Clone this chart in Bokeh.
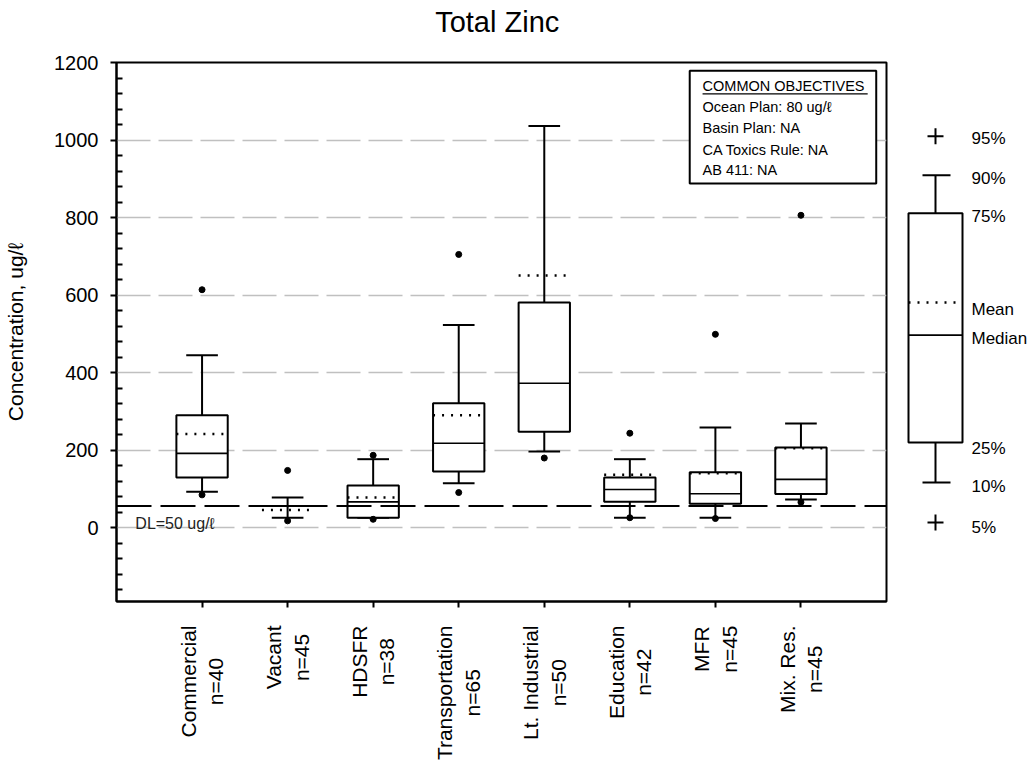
import math
from bokeh.plotting import figure
from bokeh.models import Range1d, FixedTicker, ColumnDataSource, Span
from bokeh.layouts import row, column
from bokeh.embed import file_html
from bokeh.resources import INLINE
from bokeh.core.properties import value

# ---------------- data ----------------
title_text = "Total Zinc"
categories = ["Commercial", "Vacant", "HDSFR", "Transportation",
              "Lt. Industrial", "Education", "MFR", "Mix. Res."]
counts = [40, 45, 38, 65, 50, 42, 45, 45]
p5 = [85, 18, 22, 91, 180, 26, 24, 66]
p10 = [93, 26, 26, 115, 197, 26, 26, 73]
q1 = [130, 56, 26, 145, 248, 67, 62, 87]
median = [192, 56, 67, 218, 373, 99, 88, 125]
q3 = [290, 56, 109, 321, 581, 130, 143, 207]
p90 = [445, 78, 177, 523, 1036, 177, 259, 269]
p95 = [614, 148, 187, 705, float("nan"), 244, 499, 806]
mean = [242, 46, 78, 290, 651, 137, 141, 205]

y_ticks = [0, 200, 400, 600, 800, 1000, 1200]
detection_limit = 56
dl_label = "DL=50 ug/\u2113"
objectives = ["COMMON OBJECTIVES", "Ocean Plan: 80 ug/\u2113", "Basin Plan: NA",
              "CA Toxics Rule: NA", "AB 411: NA"]

key_names = ["95%", "90%", "75%", "Mean", "Median", "25%", "10%", "5%"]
key_p5, key_p10, key_q1, key_median, key_mean, key_q3, key_p90, key_p95 = 14, 117, 220, 497, 581, 811, 909, 1010

FONT = "Liberation Sans"
HT = 46           # height of the title strip
HP = 609 - HT     # height of the plot row
HL = 156          # height of the category-label strip
TOP = 62 - HT     # top border of the plot inside its row

# ---------------- title strip (shares the x scale) ----------------
tf = figure(width=896, height=HT, x_range=Range1d(0, 9), y_range=Range1d(0, HT),
            toolbar_location=None, output_backend="svg",
            x_axis_location=None, y_axis_location=None,
            min_border_left=116, min_border_right=10, min_border_top=0, min_border_bottom=0)
tf.outline_line_color = None
tf.grid.visible = False
tf.text(x=[4.45], y=[HT - 21], text=[title_text], text_font=value(FONT),
        text_font_size="29px", text_align="center", text_baseline="middle",
        text_color="black")

# ---------------- main figure ----------------
xs = list(range(1, len(categories) + 1))
cat_labels = [f"{c}\nn={n}" for c, n in zip(categories, counts)]

p = figure(width=896, height=HP, x_range=tf.x_range, y_range=Range1d(-190, 1200),
           toolbar_location=None, output_backend="svg",
           min_border_left=116, min_border_right=10, min_border_top=TOP,
           min_border_bottom=HP - (601 - HT))

p.outline_line_color = "black"
p.outline_line_width = 2
p.xgrid.visible = False
p.ygrid.ticker = FixedTicker(ticks=y_ticks)
p.ygrid.grid_line_color = "#c0c0c0"
p.ygrid.grid_line_width = 1.5
p.ygrid.grid_line_dash = "34 8"

minor = [v for v in range(-160, 1200, 40) if v % 200 != 0]
p.yaxis.ticker = FixedTicker(ticks=y_ticks, minor_ticks=minor)
p.yaxis.axis_label = "Concentration, ug/\u2113"
p.yaxis.axis_label_text_font = FONT
p.yaxis.axis_label_text_font_size = "21px"
p.yaxis.axis_label_text_font_style = "normal"
p.yaxis.axis_label_text_color = "black"
p.yaxis.axis_label_standoff = 24
p.yaxis.major_label_text_font = FONT
p.yaxis.major_label_text_font_size = "20px"
p.yaxis.major_label_text_color = "black"
p.yaxis.major_label_standoff = 12
p.yaxis.major_tick_out = 6
p.yaxis.major_tick_in = 0
p.yaxis.minor_tick_in = 6
p.yaxis.minor_tick_out = 0
p.yaxis.major_tick_line_width = 2
p.yaxis.minor_tick_line_width = 2
p.yaxis.axis_line_width = 2

p.xaxis.ticker = FixedTicker(ticks=xs)
p.xaxis.major_label_overrides = {x: "" for x in xs}
p.xaxis.major_label_standoff = 0
p.xaxis.major_tick_out = 6
p.xaxis.major_tick_in = 0
p.xaxis.minor_tick_out = 0
p.xaxis.minor_tick_in = 0
p.xaxis.major_tick_line_width = 2
p.xaxis.axis_line_width = 2

src = ColumnDataSource(dict(
    x=xs,
    xl=[x - 0.3 for x in xs], xr=[x + 0.3 for x in xs],
    cl=[x - 0.185 for x in xs], cr=[x + 0.185 for x in xs],
    p5=p5, p10=p10, q1=q1, median=median, q3=q3, p90=p90, p95=p95, mean=mean,
))

# detection limit line
p.add_layout(Span(location=detection_limit, dimension="width", line_color="black",
                  line_width=2, line_dash="35 9"))
p.text(x=[0.22], y=[11], text=[dl_label], text_font=value(FONT), text_font_size="16px",
       text_baseline="middle", text_align="left", text_color="#222222")

# whiskers and caps
p.segment(x0="x", y0="q3", x1="x", y1="p90", source=src, line_color="black", line_width=2)
p.segment(x0="x", y0="q1", x1="x", y1="p10", source=src, line_color="black", line_width=2)
p.segment(x0="cl", y0="p90", x1="cr", y1="p90", source=src, line_color="black", line_width=2)
p.segment(x0="cl", y0="p10", x1="cr", y1="p10", source=src, line_color="black", line_width=2)
# boxes
p.quad(left="xl", right="xr", bottom="q1", top="q3", source=src, fill_color="white",
       line_color="black", line_width=2)
p.segment(x0="xl", y0="median", x1="xr", y1="median", source=src, line_color="black", line_width=1.6)
p.segment(x0="xl", y0="mean", x1="xr", y1="mean", source=src, line_color="black",
          line_width=2.5, line_dash="2 7")
# outliers
p.scatter(x="x", y="p95", source=src, marker="circle", size=6, fill_color="black", line_color="black")
p.scatter(x="x", y="p5", source=src, marker="circle", size=6, fill_color="black", line_color="black")

# objectives box
p.quad(left=[6.70], right=[8.88], bottom=[888], top=[1179], fill_color="white",
       line_color="black", line_width=2)
p.text(x=[6.85] * 5, y=[1140, 1084, 1032, 974, 923], text=objectives, text_font=value(FONT),
       text_font_size="14.5px", text_baseline="middle", text_align="left", text_color="black")
p.segment(x0=[6.85], y0=[1119], x1=[8.78], y1=[1119], line_color="black", line_width=1.3)

# ---------------- category label strip (shares the x scale) ----------------
lf = figure(width=896, height=HL, x_range=p.x_range, y_range=Range1d(0, HL),
            toolbar_location=None, output_backend="svg",
            x_axis_location=None, y_axis_location=None,
            min_border_left=116, min_border_right=10, min_border_top=0, min_border_bottom=0)
lf.outline_line_color = None
lf.grid.visible = False
lf.text(x=xs, y=[HL - 16] * len(xs), text=cat_labels, angle=math.pi / 2,
        anchor="center_right", text_align="center", text_baseline="middle",
        text_font=value(FONT), text_font_size="21px", text_color="black",
        text_line_height=1.2)

# ---------------- key figure ----------------
kp = figure(width=136, height=HP, x_range=Range1d(0, 136), y_range=p.y_range,
            toolbar_location=None, output_backend="svg",
            x_axis_location=None, y_axis_location=None,
            min_border_left=0, min_border_right=0, min_border_top=TOP,
            min_border_bottom=HP - (601 - HT))
kp.outline_line_color = None
kp.grid.visible = False

kp.segment(x0=[39, 39], y0=[key_q3, key_q1], x1=[39, 39], y1=[key_p90, key_p10],
           line_color="black", line_width=2)
kp.segment(x0=[26, 26], y0=[key_p90, key_p10], x1=[54, 54], y1=[key_p90, key_p10],
           line_color="black", line_width=2)
kp.quad(left=[12], right=[66], bottom=[key_q1], top=[key_q3], fill_color="white",
        line_color="black", line_width=2)
kp.segment(x0=[12], y0=[key_median], x1=[66], y1=[key_median], line_color="black", line_width=1.6)
kp.segment(x0=[12], y0=[key_mean], x1=[66], y1=[key_mean], line_color="black",
           line_width=2.5, line_dash="2 7")
kp.scatter(x=[39, 39], y=[key_p95, key_p5], marker="cross", size=16, line_color="black",
           line_width=2)
kp.text(x=[75] * 8,
        y=[key_p95 - 5, key_p90 - 7, key_q3 - 7, key_mean - 17, key_median - 8,
           key_q1 - 15, key_p10 - 10, key_p5 - 13],
        text=key_names, text_font=value(FONT), text_font_size="17px",
        text_baseline="middle", text_align="left", text_color="black")

layout = column(tf, row(p, kp), lf)
open("out.html", "w").write(file_html(layout, INLINE))
